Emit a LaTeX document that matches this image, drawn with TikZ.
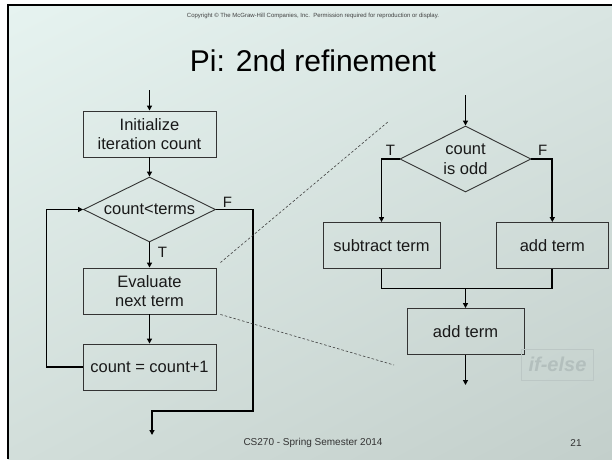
\documentclass[tikz,border=0pt]{standalone}
\usepackage{fontspec}
\setmainfont{Liberation Sans}
\usepackage{tikz}
\usetikzlibrary{arrows.meta,shapes.geometric,shadings,positioning}
\definecolor{bgtl}{HTML}{E6F3F0}
\definecolor{bgtr}{HTML}{D9E5E2}
\definecolor{bgbl}{HTML}{D2DEDA}
\definecolor{bgbr}{HTML}{C3CFCB}
\definecolor{wmtext}{HTML}{B3BFBD}
\definecolor{wmline}{HTML}{BCC7C5}

\begin{document}
\begin{tikzpicture}[x=1pt,y=-1pt,
  box/.style={draw=black!80, line width=0.9pt, minimum width=133pt, minimum height=46pt, inner sep=2pt, align=center, text=black!90, font=\fontsize{16.5}{19.5}\selectfont},
  cond/.style={shape=diamond, aspect=2, draw=black!80, line width=0.9pt, inner sep=0pt, align=center, text=black!90, font=\fontsize{16.5}{19.5}\selectfont},
  flow/.style={line width=1.8pt, -{Triangle[length=5pt,width=5pt]}},
  lbl/.style={inner sep=0pt, text=black!90, font=\fontsize{15}{15}\selectfont},
  zoomline/.style={black!75, line width=0.6pt, dash pattern=on 2.5pt off 2pt}]
\useasboundingbox (0,0) rectangle (612,459);
\fill[white] (0,0) rectangle (612,459);
\shade[upper left=bgtl, upper right=bgtr, lower left=bgbl, lower right=bgbr] (8,5) rectangle (612,459);
\draw[line width=2.2pt] (8,459) -- (8,5) -- (612,5);

%header
\node[text=black!75, font=\fontsize{6}{6}\selectfont] (copy) at (313,15.7) {Copyright \textcopyright{} The McGraw-Hill Companies, Inc.\ \ Permission required for reproduction or display.};
\node[anchor=base, font=\fontsize{30}{30}\selectfont] (title) at (313,71) {Pi: 2nd refinement};

%left chart
\coordinate (lin) at (149.5,90);
\node[box] (init) at (149.5,134) {Initialize\\iteration count};
\node[cond, minimum width=132pt, minimum height=65pt] (test) at (149.5,209.5) {count<terms};
\node[box] (eval) at (149.5,291) {Evaluate\\next term};
\node[box] (incr) at (149.5,367) {count = count+1};
\coordinate (fr) at (253,411);
\coordinate (lout) at (152,435);
\draw[flow] (lin) -- (init.north);
\draw[flow] (init.south) -- (test.north);
\draw[flow] (test.south) -- (eval.north);
\draw[flow] (eval.south) -- (incr.north);
\draw[flow] (incr.west) -- ++(-36,0) |- (test.west);
\draw[flow] (test.east) -| (fr) -| (lout);
\node[lbl] (f1) at (227.5,202) {F};
\node[lbl] (t1) at (162.5,252) {T};

%zoom lines
\coordinate (z1) at (389,121);
\coordinate (z2) at (394,365);
\draw[zoomline] ([shift={(4,-5)}]eval.north east) -- (z1);
\draw[zoomline] ([xshift=4pt]eval.south east) -- (z2);

%right chart
\coordinate (rin) at (465.5,95);
\node[cond, minimum width=131pt, minimum height=66pt] (odd) at (465.5,159) {count\\is odd};
\node[box, minimum width=117pt] (sub) at (381.5,245.5) {subtract term};
\node[box, minimum width=112pt] (add) at (552.3,245.5) {add term};
\coordinate (join) at (465.5,288.5);
\node[box, minimum width=117pt] (sum) at (465.5,331.5) {add term};
\coordinate (rout) at (465.5,385);
\draw[flow] (rin) -- (odd.north);
\draw[flow] (odd.west) -| (sub.north);
\draw[flow] (odd.east) -| (add.north);
\draw[line width=1.8pt] (sub.south) |- (join) -| (add.south);
\draw[flow] (join) -- (sum.north);
\draw[flow] (sum.south) -- (rout);
\node[lbl] (t2) at (390.5,150) {T};
\node[lbl] (f2) at (542.7,150) {F};

%tag
\node[draw=wmline, line width=0.6pt, minimum width=71.6pt, minimum height=30.7pt, text=wmtext, font=\fontsize{20}{20}\selectfont\bfseries\itshape] (tag) at (557.5,364.7) {if-else};

%footer
\node[text=black!80, font=\fontsize{10}{10}\selectfont] (foot) at (313,442.5) {CS270 - Spring Semester 2014};
\node[text=black!80, font=\fontsize{10}{10}\selectfont] (page) at (576,442.5) {21};
\end{tikzpicture}
\end{document}
